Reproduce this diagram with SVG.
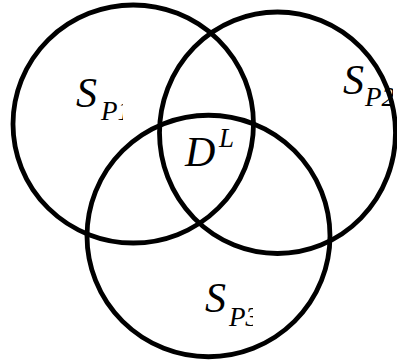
<svg xmlns="http://www.w3.org/2000/svg" width="397" height="360" viewBox="0 0 397 360">
<style>
.c{fill:none;stroke:#000;stroke-width:4.8}
.m{font-family:"Liberation Serif","Times New Roman",serif;font-style:italic;fill:#000}
.big{font-size:42px}
.sub{font-size:27px}
</style>
<defs>
<clipPath id="k1"><rect x="0" y="0" width="123" height="360"/></clipPath>
<clipPath id="k2"><rect x="0" y="0" width="393" height="360"/></clipPath>
<clipPath id="k3"><rect x="0" y="0" width="253" height="360"/></clipPath>
</defs>
<rect width="397" height="360" fill="#fff"/>
<g id="circles">
<ellipse id="c1" class="c" cx="133.25" cy="124" rx="120.25" ry="119"/>
<ellipse id="c2" class="c" cx="277.5" cy="132.75" rx="118" ry="120.75"/>
<ellipse id="c3" class="c" cx="208.5" cy="236" rx="121.5" ry="120.75"/>
</g>
<g id="sp1" clip-path="url(#k1)">
<text class="m big" x="76" y="107">S</text>
<text class="m sub" x="101" y="120">P1</text>
</g>
<g id="sp2" clip-path="url(#k2)">
<text class="m big" x="343" y="94">S</text>
<text class="m sub" x="365" y="106">P2</text>
</g>
<g id="dl">
<text class="m big" x="185" y="166">D</text>
<text class="m sub" x="219" y="147">L</text>
</g>
<g id="sp3" clip-path="url(#k3)">
<text class="m big" x="205" y="312">S</text>
<text class="m sub" x="229" y="326">P3</text>
</g>
</svg>
